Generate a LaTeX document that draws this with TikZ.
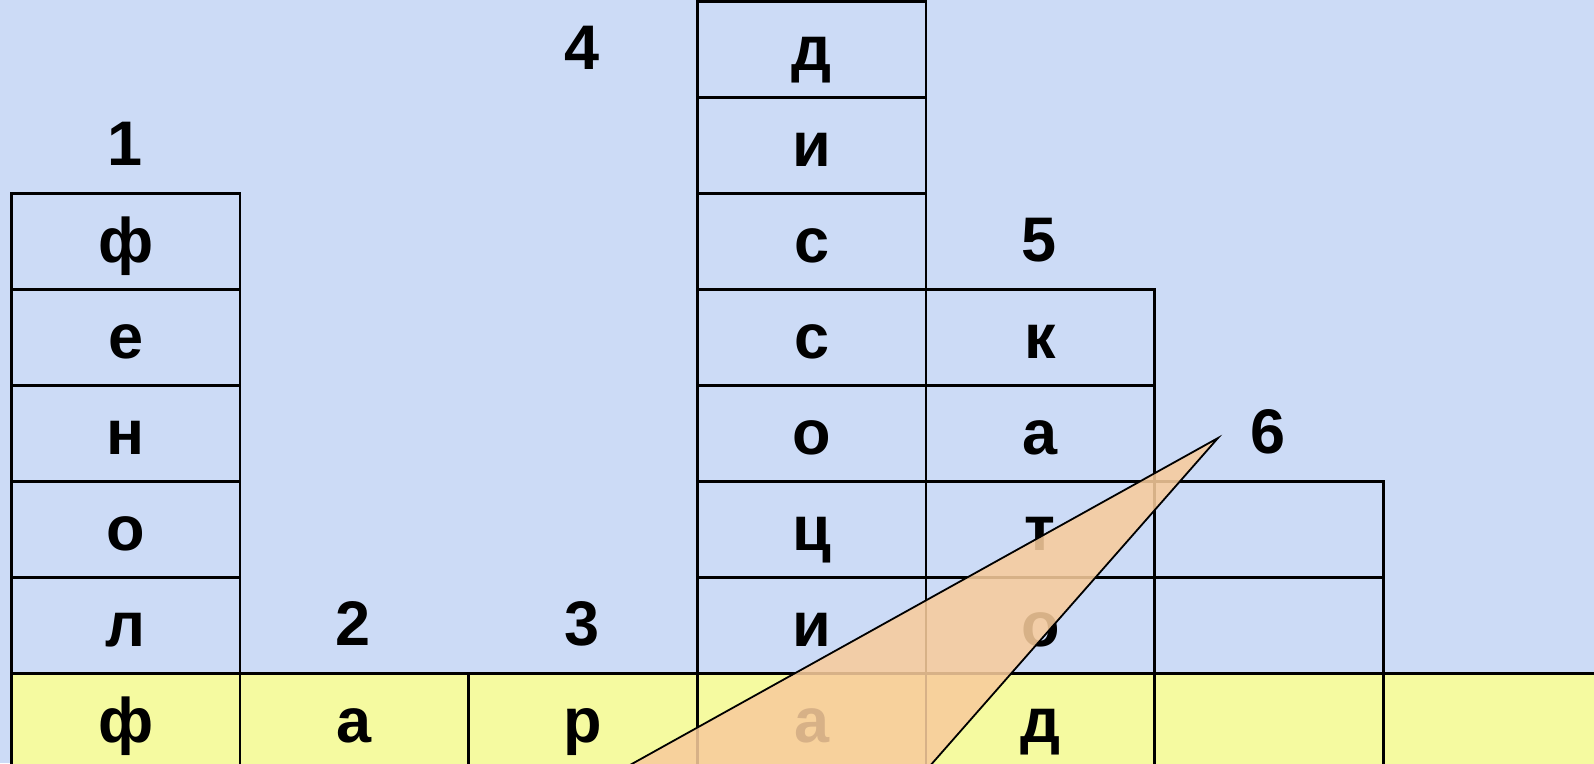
\documentclass[tikz,border=0pt]{standalone}
\usepackage{fontspec}
\setmainfont{Liberation Sans}
\definecolor{bgblue}{RGB}{204,219,246}
\definecolor{cellyellow}{RGB}{245,250,160}
\definecolor{tailorange}{RGB}{248,204,156}
\tikzset{
  cellbox/.style={draw=black, line width=2.5pt, rectangle, anchor=north west,
    minimum width=228.67pt, minimum height=96pt, inner sep=0pt,
    text height=46pt, text depth=4pt,
    font=\fontsize{63pt}{63pt}\selectfont\bfseries},
  yellowbox/.style={cellbox, fill=cellyellow},
  lab/.style={rectangle, anchor=north west,
    minimum width=228.67pt, minimum height=96pt, inner sep=0pt,
    text height=46pt, text depth=4pt,
    font=\fontsize{63pt}{63pt}\selectfont\bfseries},
  tail/.style={fill=tailorange, fill opacity=0.87, draw=black, line width=1.8pt, line join=miter}
}
\begin{document}
\begin{tikzpicture}[x=1pt,y=-1pt]
\useasboundingbox (0,0) rectangle (1594,763);
\clip (0,0) rectangle (1594,763);
\fill[bgblue] (0,0) rectangle (1594,763);
% column 1
\foreach \r/\t in {2/ф,3/е,4/н,5/о,6/л}
  \node[cellbox] (c0-\r) at (10,{96*\r}) {\t};
% column 4
\foreach \r/\t in {0/д,1/и,2/с,3/с,4/о,5/ц,6/и}
  \node[cellbox] (c3-\r) at (696,{96*\r}) {\t};
% column 5
\foreach \r/\t in {3/к,4/а,5/т,6/о}
  \node[cellbox] (c4-\r) at (924.67,{96*\r}) {\t};
% column 6
\foreach \r in {5,6}
  \node[cellbox] (c5-\r) at (1153.33,{96*\r}) {};
% bottom row
\foreach \c/\t in {0/ф,1/а,2/р,3/а,4/д,5/{}}
  \node[yellowbox] (b\c) at ({10+228.67*\c},672) {\t};
\node[yellowbox, minimum width=260pt] (b6) at (1382,672) {};
% number labels
\node[lab] (l1) at (10,96) {1};
\node[lab] (l2) at (238.67,576) {2};
\node[lab] (l3) at (467.33,576) {3};
\node[lab] (l4) at (467.33,0) {4};
\node[lab] (l5) at (924.67,192) {5};
\node[lab] (l6) at (1153.33,384) {6};
% callout tail
\coordinate (tip) at (1218,438);
\coordinate (tl) at (567,800);
\coordinate (tr) at (900,800);
\draw[tail] (tip) -- (tl) -- (tr) -- cycle;
\end{tikzpicture}
\end{document}
